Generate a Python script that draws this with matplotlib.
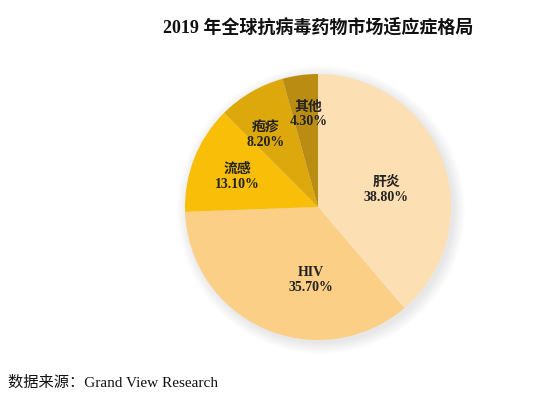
import matplotlib
matplotlib.use("Agg")
import matplotlib.pyplot as plt
import numpy as np
from matplotlib.patches import Circle

labels = ["肝炎", "HIV", "流感", "疱疹", "其他"]
values = [38.8, 35.7, 13.1, 8.2, 4.3]
colors = ["#FDDFB4", "#FBCF85", "#F8BE08", "#DCA80C", "#BA8D12"]
title = "2019 年全球抗病毒药物市场适应症格局"
source = "数据来源：Grand View Research"

fam = ["Liberation Serif", "Noto Sans CJK SC"]
plt.rcParams['font.family'] = fam

W, H = 550, 394
fig = plt.figure(figsize=(W / 100, H / 100), dpi=100)
ax = fig.add_axes([0, 0, 1, 1])

cx, cy, R = 318, 394 - 207, 133

# soft shadow
for i in range(12):
    ax.add_patch(Circle((cx + 3, cy - 3), R + 11 - i, color="#000000",
                        alpha=0.009, lw=0, zorder=0))

wedges, _ = ax.pie(values, colors=colors, startangle=90, counterclock=False,
                   center=(cx, cy), radius=R, wedgeprops=dict(lw=0))
for w in wedges:
    w.set_zorder(2)

ax.set_xlim(0, W)
ax.set_ylim(0, H)
ax.set_aspect('equal')
ax.axis('off')

dist = [0.53, 0.55, 0.65, 0.67, 0.70]
ang_off = [-6, 18, 1, 6, -2]
for w, lab, v, d, ao in zip(wedges, labels, values, dist, ang_off):
    th = np.deg2rad((w.theta1 + w.theta2) / 2 + ao)
    x = cx + d * R * np.cos(th)
    y = cy + d * R * np.sin(th)
    ax.text(x, y, f"{lab}\n{v:.2f}%", ha='center', va='center', fontsize=10,
            fontweight='bold', color="#222222", linespacing=1.2, zorder=5)

fig.text(318 / W, 1 - 27 / H, title, ha='center', va='center', fontsize=13,
         fontweight='bold', color="#111111")
fig.text(8 / W, 1 - 383 / H, source, ha='left', va='center', fontsize=11,
         color="#111111")

fig.savefig("out.png", dpi=100)
